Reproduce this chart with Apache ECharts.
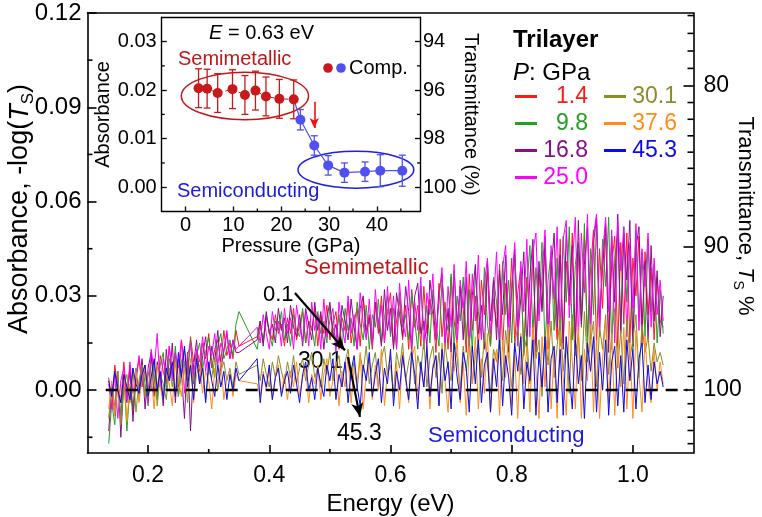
<!DOCTYPE html>
<html><head><meta charset="utf-8">
<script src="https://cdn.jsdelivr.net/npm/echarts@6/dist/echarts.min.js"></script>
<style>html,body{margin:0;padding:0;background:#fff}#c{width:762px;height:517px}</style>
</head><body><div id="c"></div>
<script>
// ---------- DATA ----------
const energy = [
.135,.140,.145,.150,.155,.160,.165,.170,.175,.180,
.185,.190,.195,.200,.205,.210,.215,.220,.225,.230,
.235,.240,.245,.250,.255,.260,.265,.270,.275,.280,
.285,.290,.295,.300,.305,.310,.315,.320,.325,.330,
.335,.340,.345,.350,
.380,.385,.390,.395,.400,.405,.410,.415,.420,.425,
.430,.435,.440,.445,.450,.455,.460,.465,.470,.475,
.480,.485,.490,.495,.500,.505,.510,.515,.520,.525,
.530,.535,.540,.545,.550,.555,.560,.565,.570,.575,
.580,.585,.590,.595,.600,.605,.610,.615,.620,.625,
.630,.635,.640,.645,.650,.655,.660,.665,.670,.675,
.680,.685,.690,.695,.700,.705,.710,.715,.720,.725,
.730,.735,.740,.745,.750,.755,.760,.765,.770,.775,
.780,.785,.790,.795,.800,.805,.810,.815,.820,.825,
.830,.835,.840,.845,.850,.855,.860,.865,.870,.875,
.880,.885,.890,.895,.900,.905,.910,.915,.920,.925,
.930,.935,.940,.945,.950,.955,.960,.965,.970,.975,
.980,.985,.990,.995,1.000,1.005,1.010,1.015,1.020,1.025,
1.030,1.035,1.040,1.045,1.050];

const abs_1_4 = [
.004,-.006,.008,.001,-.004,.009,-.002,.006,-.007,.003,
.010,.001,.007,-.003,.012,.004,-.001,.011,.006,.002,
.014,.005,.011,.001,.016,.008,.003,.017,.009,.012,
.006,.015,.010,.018,.007,.013,.016,.009,.019,.011,
.015,.010,.019,.014,
.017,.022,.015,.023,.019,.016,.024,.018,.021,.014,
.023,.018,.026,.016,.021,.025,.015,.022,.019,.026,
.014,.024,.018,.027,.016,.021,.025,.013,.023,.019,
.028,.015,.022,.026,.014,.029,.019,.024,.013,.027,
.018,.030,.015,.025,.031,.014,.022,.029,.016,.027,
.013,.032,.020,.027,.014,.033,.018,.029,.024,.012,
.034,.017,.028,.013,.036,.022,.015,.033,.026,.012,
.037,.019,.030,.013,.035,.024,.038,.014,.029,.020,
.040,.013,.034,.022,.042,.015,.031,.039,.012,.036,
.021,.045,.014,.037,.026,.046,.013,.040,.030,.016,
.048,.015,.041,.027,.050,.013,.044,.022,.049,.017,
.038,.051,.014,.045,.026,.052,.016,.040,.049,.013,
.047,.021,.050,.015,.042,.030,.049,.014,.044,.024,
.039,.016,.036,.022,.020];

const abs_9_8 = [
-.017,-.004,-.011,.003,-.008,.005,-.013,.001,-.006,.007,
-.002,.009,.002,-.005,.011,.004,-.003,.008,.012,.000,
.010,.004,.014,-.002,.009,.013,.005,.016,.002,.011,
.015,.007,.012,.017,.009,.004,.014,.018,.010,.013,
.016,.011,.021,.025,
.013,.020,.016,.024,.018,.014,.022,.019,.025,.016,
.021,.014,.024,.019,.017,.026,.015,.022,.020,.014,
.025,.018,.022,.015,.027,.020,.016,.024,.013,.026,
.019,.023,.014,.028,.021,.016,.027,.013,.024,.020,
.029,.015,.023,.030,.017,.026,.013,.031,.020,.024,
.016,.031,.022,.013,.033,.019,.027,.015,.032,.021,
.014,.035,.024,.019,.037,.013,.030,.022,.036,.016,
.032,.012,.038,.025,.017,.039,.021,.014,.036,.028,
.013,.041,.024,.035,.015,.043,.020,.038,.011,.033,
.046,.018,.039,.024,.047,.013,.035,.044,.019,.042,
.014,.049,.028,.052,.016,.040,.047,.020,.053,.012,
.045,.024,.054,.017,.048,.033,.055,.013,.042,.050,
.019,.052,.028,.046,.013,.051,.022,.044,.017,.048,
.025,.040,.015,.032,.018];

const abs_16_8 = [
-.013,.001,-.008,.006,-.015,.003,-.004,.008,-.010,.005,
.000,.010,-.006,.007,.012,-.002,.009,.004,-.005,.013,
.003,.015,-.004,.010,.006,-.009,.012,-.013,.008,.016,
.002,.011,.017,.005,.014,.009,.019,.006,.013,.018,
.010,.016,.012,.012,
.016,.022,.014,.025,.018,.021,.015,.026,.019,.023,
.015,.027,.020,.017,.024,.014,.026,.021,.016,.028,
.019,.025,.013,.023,.028,.017,.021,.014,.027,.022,
.016,.029,.020,.013,.026,.030,.017,.023,.015,.028,
.022,.014,.032,.019,.026,.013,.031,.024,.017,.033,
.025,.012,.030,.034,.018,.022,.014,.035,.027,.016,
.031,.037,.015,.026,.012,.038,.021,.033,.016,.036,
.014,.030,.040,.018,.027,.013,.041,.022,.035,.016,
.038,.024,.043,.012,.032,.045,.017,.029,.044,.014,
.036,.048,.012,.041,.025,.049,.016,.038,.050,.020,
.043,.013,.051,.030,.046,.015,.054,.021,.040,.052,
.016,.047,.055,.022,.039,.053,.012,.049,.028,.056,
.018,.050,.035,.054,.014,.045,.052,.020,.041,.016,
.046,.022,.038,.017,.030];

const abs_25_0 = [
.002,-.006,.005,-.009,.003,.007,-.003,.009,-.001,.004,
.011,.002,.008,-.004,.013,.006,.018,.001,.010,.005,
.014,.003,.012,.007,.016,-.001,.011,.015,.004,.013,
.009,.017,.006,.014,.011,.018,.008,.015,.012,.019,
.010,.016,.013,.014,
.020,.015,.024,.018,.013,.025,.019,.022,.014,.026,
.018,.023,.013,.027,.020,.016,.025,.014,.028,.019,
.024,.013,.029,.017,.022,.026,.012,.028,.020,.015,
.030,.018,.024,.013,.031,.021,.016,.029,.014,.032,
.020,.027,.015,.033,.018,.030,.013,.034,.022,.017,
.035,.014,.028,.019,.036,.013,.031,.024,.037,.016,
.029,.039,.014,.033,.020,.040,.015,.035,.026,.041,
.013,.037,.022,.043,.016,.034,.042,.018,.028,.044,
.015,.039,.046,.020,.033,.047,.014,.041,.025,.048,
.017,.044,.050,.022,.036,.051,.015,.046,.029,.052,
.019,.048,.054,.023,.040,.055,.016,.050,.031,.056,
.021,.049,.056,.018,.043,.055,.025,.051,.015,.054,
.038,.052,.017,.047,.026,.053,.019,.045,.033,.050,
.020,.042,.024,.035,.022];

const abs_30_1 = [
-.009,.002,-.005,.006,-.011,.001,.005,-.004,.007,-.007,
.003,.008,-.002,.006,.000,.009,-.005,.005,.002,-.003,
.007,.001,.010,-.002,.005,.009,-.004,.008,.003,.011,
.002,.008,-.003,.007,.004,.010,.000,.006,.009,.003,
.007,.001,.009,.005,
.008,.003,.010,.005,.001,.009,.004,.011,.006,.002,
.009,.004,.011,.002,.007,.010,.003,.008,.012,.004,
.007,.001,.010,.005,.012,.003,.008,.011,.002,.009,
.013,.004,.009,.000,.011,.006,.014,.002,.008,.012,
.001,.010,.014,.005,.008,-.001,.012,.007,.015,.003,
.009,.013,.002,.011,.006,.016,.001,.010,.014,.004,
.012,-.001,.015,.007,.003,.016,.010,.000,.014,.006,
.017,.002,.011,.015,.004,.018,.008,-.001,.013,.009,
.016,.003,.019,.010,.001,.015,.020,.005,.012,.017,
.002,.021,.010,.016,-.002,.019,.008,.022,.004,.014,
.023,.006,.017,-.001,.024,.011,.018,.003,.025,.009,
.015,.022,.001,.020,.013,.024,.005,.018,.026,.007,
.019,.002,.023,.010,.016,.024,.004,.021,.012,.017,
.006,.015,.009,.012,.008];

const abs_37_6 = [
-.006,.003,-.008,.001,-.003,.005,-.010,.002,-.001,.006,
-.004,.004,.007,-.002,.005,-.006,.008,.001,-.003,.006,
.002,-.005,.009,.003,-.002,.007,.000,.010,-.004,.005,
.008,-.001,.006,.003,-.006,.007,.002,.009,-.003,.004,
.006,-.002,.005,.003,
.002,-.002,.006,.000,.007,-.003,.004,.008,-.001,.005,
-.003,.006,.001,.009,-.002,.004,.007,-.004,.005,.002,
.008,-.003,.005,.010,-.002,.003,.009,-.005,.006,.001,
.011,-.004,.007,.002,.012,-.006,.005,.010,-.003,.008,
.000,.013,-.005,.006,.011,-.002,.009,-.006,.012,.003,
-.004,.010,.014,-.003,.007,.001,.013,-.006,.008,.011,
-.005,.015,.003,-.007,.012,.006,.016,-.004,.009,-.008,
.014,.002,.017,-.006,.010,-.001,.018,-.007,.008,.013,
-.008,.016,.004,.019,-.005,.011,-.009,.018,.002,.014,
-.007,.020,.006,-.009,.017,.001,.021,-.006,.012,-.009,
.019,.004,-.008,.022,.009,-.006,.020,-.009,.013,.003,
.021,-.007,.016,-.009,.010,.022,-.004,.018,-.008,.014,
.001,.020,-.006,.015,-.009,.019,.005,-.007,.017,.002,
-.004,.013,.000,.009,.002];

const abs_45_3 = [
.003,-.002,.006,.000,-.004,.005,.001,-.003,.007,.002,
-.001,.005,.008,-.002,.004,.010,.000,.006,-.003,.007,
.003,.009,-.002,.012,.004,.014,.001,.008,-.003,.010,
.002,.007,-.004,.009,.003,-.002,.008,.001,.006,-.003,
.005,.000,.007,.003,
.010,-.004,.005,.001,.008,-.003,.004,.007,-.002,.003,
.006,-.001,.008,.002,-.004,.005,.009,.000,.004,-.003,
.007,.002,-.002,.008,.003,.010,-.003,.005,.001,.009,
-.004,.006,.011,.001,-.005,.008,.003,.012,-.002,.005,
.010,-.004,.007,.002,.013,-.005,.006,.000,.011,.004,
-.003,.012,.005,-.006,.009,.001,.014,-.002,.007,.011,
-.005,.013,.003,.009,-.006,.015,.004,-.003,.012,.007,
-.007,.014,.002,.016,-.004,.008,.012,-.007,.010,.001,
.016,-.005,.011,.004,-.008,.015,.006,.017,-.006,.009,
.003,.016,-.008,.012,.001,.017,-.007,.010,.014,-.004,
.013,-.008,.017,.005,-.006,.016,.002,.011,-.009,.015,
.006,.017,-.007,.012,.000,.016,-.008,.009,.014,-.005,
.011,-.007,.016,.003,.013,-.006,.010,.015,-.004,.008,
-.003,.009,.002,.006,.001];

const pressures = ['1.4','9.8','16.8','25.0','30.1','37.6','45.3'];

// inset: absorbance at E = 0.63 eV vs pressure
const insetPressure = [2.7,4.5,6.7,9.8,12.4,14.6,16.8,19.6,22.6,24.0,26.9,29.8,33.2,37.5,40.7,45.3];
const insetAbs      = [.0204,.0203,.0194,.0202,.0190,.0199,.0187,.0182,.0181,.0139,.0086,.0045,.0030,.0032,.0034,.0034];
const insetErr      = [.0040,.0040,.0040,.0040,.0040,.0040,.0040,.0040,.0040,.0021,.0020,.0020,.0020,.0020,.0033,.0032];

// tick values
const xMajor = [0.2,0.4,0.6,0.8,1.0];
const xMinor = [0.3,0.5,0.7,0.9];
const yMajor = [0,0.03,0.06,0.09,0.12];
const yMinor = [-0.015,0.015,0.045,0.075,0.105];
const tMajor = [80,90,100];
const tMinor = [76,77,78,79,81,82,83,84,85,86,87,88,89,91,92,93,94,95,96,97,98,99,101,102,103,104];
const insetXMajor = [0,10,20,30,40];
const insetXMinor = [5,15,25,35,45];
const insetYMajor = [0,0.01,0.02,0.03];
const insetYMinor = [0.005,0.015,0.025];
const insetTMajor = [94,96,98,100];
const insetTMinor = [95,97,99];

// ---------- STYLE / BUILD ----------
const FONT = '"Liberation Sans", Arial, Helvetica, sans-serif';
const lineColors = ['#ff1a1a','#22a022','#86108c','#ff00ff','#8c8c28','#ff8c1a','#0a0af0'];
const RED = '#c81a1a', BLUE = '#5050f0';
const DARKRED = '#c01818', TXTBLUE = '#1a1ae0';
const seriesValues = [abs_1_4, abs_9_8, abs_16_8, abs_25_0, abs_30_1, abs_37_6, abs_45_3];

function pairs(xs, ys){ const out=[]; const n=Math.min(xs.length, ys.length); for(let i=0;i<n;i++) out.push([xs[i], ys[i]]); return out; }
const absFromT = t => -Math.log10(t/100);          // main right axis: Ts %
const absFromInsetT = t => (100 - t) / 200;         // inset right axis

const mainRange = {x:[0.1,1.1], y:[-0.02,0.12]};
const insetRange = {x:[-5,49], y:[-0.005,0.035]};

const chart = echarts.init(document.getElementById('c'), null, {renderer:'canvas'});
const noSplit = {show:false};
function baseAxis(extra){ return Object.assign({type:'value', splitLine:noSplit, axisPointer:{show:false}}, extra); }
const mLine = {show:true, onZero:false, lineStyle:{color:'#000', width:1.6}};
const iLine = {show:true, onZero:false, lineStyle:{color:'#000', width:1.4}};

const subRich = (size) => ({
  a:{fontSize:size, fontFamily:FONT, color:'#000', fill:'#000', lineHeight:size+6},
  i:{fontSize:size, fontFamily:FONT, color:'#000', fill:'#000', fontStyle:'italic', lineHeight:size+6},
  s:{fontSize:Math.round(size*0.62), fontFamily:FONT, color:'#000', fill:'#000', lineHeight:Math.round(size*0.62), verticalAlign:'bottom'}
});

// axis indices: x 0 main-bottom, 1 main-top, 2 inset-bottom, 3 inset-top
//               y 0 main-left, 1 main-right, 2 inset-left, 3 inset-right
const xAxes = [
  baseAxis({gridIndex:0, position:'bottom', min:mainRange.x[0], max:mainRange.x[1], axisLine:mLine,
    axisTick:{show:true, inside:true, length:8, lineStyle:{width:1.6,color:'#000'}, customValues:xMajor},
    axisLabel:{show:true, customValues:xMajor, margin:11, fontSize:23, color:'#000', fontFamily:FONT, formatter:v=>v.toFixed(1)},
    name:'Energy (eV)', nameLocation:'middle', nameGap:36, nameTextStyle:{fontSize:24, color:'#000', fontFamily:FONT}}),
  baseAxis({gridIndex:0, position:'top', min:mainRange.x[0], max:mainRange.x[1], axisLine:mLine, axisTick:{show:false}, axisLabel:{show:false}}),
  baseAxis({gridIndex:1, position:'bottom', min:insetRange.x[0], max:insetRange.x[1], axisLine:iLine,
    axisTick:{show:true, inside:true, length:5, lineStyle:{width:1.3,color:'#000'}, customValues:insetXMajor},
    axisLabel:{show:true, customValues:insetXMajor, margin:4, fontSize:20, color:'#000', fontFamily:FONT},
    name:'Pressure (GPa)', nameLocation:'middle', nameGap:21, nameTextStyle:{fontSize:20, color:'#000', fontFamily:FONT}}),
  baseAxis({gridIndex:1, position:'top', min:insetRange.x[0], max:insetRange.x[1], axisLine:iLine, axisTick:{show:false}, axisLabel:{show:false}})
];

const yAxes = [
  baseAxis({gridIndex:0, position:'left', min:mainRange.y[0], max:mainRange.y[1], axisLine:mLine,
    axisTick:{show:true, inside:true, length:9, lineStyle:{width:1.6,color:'#000'}, customValues:yMajor},
    axisLabel:{show:true, customValues:yMajor, margin:6, fontSize:24, color:'#000', fontFamily:FONT, formatter:v=>v.toFixed(2)}}),
  baseAxis({gridIndex:0, position:'right', min:mainRange.y[0], max:mainRange.y[1], axisLine:mLine,
    axisTick:{show:true, inside:true, length:10, lineStyle:{width:1.6,color:'#000'}, customValues:tMajor.map(absFromT)},
    axisLabel:{show:true, customValues:tMajor.map(absFromT), margin:10, fontSize:23, color:'#000', fontFamily:FONT,
      formatter:v=>String(Math.round(100*Math.pow(10,-v)))}}),
  baseAxis({gridIndex:1, position:'left', min:insetRange.y[0], max:insetRange.y[1], axisLine:iLine,
    axisTick:{show:true, inside:true, length:5, lineStyle:{width:1.3,color:'#000'}, customValues:insetYMajor},
    axisLabel:{show:true, customValues:insetYMajor, margin:5, fontSize:20, color:'#000', fontFamily:FONT, formatter:v=>v.toFixed(2)},
    name:'Absorbance', nameLocation:'middle', nameGap:39, nameRotate:90, nameTextStyle:{fontSize:20, color:'#000', fontFamily:FONT}}),
  baseAxis({gridIndex:1, position:'right', min:insetRange.y[0], max:insetRange.y[1], axisLine:iLine,
    axisTick:{show:true, inside:true, length:5, lineStyle:{width:1.3,color:'#000'}, customValues:insetTMajor.map(absFromInsetT)},
    axisLabel:{show:true, customValues:insetTMajor.map(absFromInsetT), margin:3, fontSize:20, color:'#000', fontFamily:FONT,
      formatter:v=>String(Math.round(100-200*v))},
    name:'Transmittance (%)', nameLocation:'middle', nameGap:27, nameRotate:-90, nameTextStyle:{fontSize:20, color:'#000', fontFamily:FONT}})
];

// minor ticks drawn through the axes' own scales: [x, y, dx, dy]
function minorTickSeries(xi, yi, items, width){
  return {type:'custom', xAxisIndex:xi, yAxisIndex:yi, silent:true, animation:false, clip:false, z:10,
    data:items, encode:{x:0, y:1},
    renderItem:(params, api)=>{
      const p = api.coord([api.value(0), api.value(1)]);
      return {type:'line', shape:{x1:p[0], y1:p[1], x2:p[0]+api.value(2), y2:p[1]+api.value(3)}, style:{stroke:'#000', lineWidth:width}};
    }};
}
const mainMinor = [].concat(
  xMinor.map(v=>[v, mainRange.y[0], 0, -4]),
  yMinor.map(v=>[mainRange.x[0], v, 5, 0]),
  tMinor.map(t=>[mainRange.x[1], absFromT(t), -6, 0]));
const insetMinor = [].concat(
  insetXMinor.map(v=>[v, insetRange.y[0], 0, -3]),
  insetYMinor.map(v=>[insetRange.x[0], v, 3, 0]),
  insetTMinor.map(t=>[insetRange.x[1], absFromInsetT(t), -3, 0]));

const arrowStyle = {color:'#000', width:2.2, type:'solid'};
const dashStyle = {color:'#000', width:2.4, type:[12,8]};
const mainSeries = pressures.map((p,k)=>({
  name:p, type:'line', xAxisIndex:0, yAxisIndex:0, data:pairs(energy, seriesValues[k]),
  showSymbol:false, symbol:'none', animation:false, silent:true,
  lineStyle:{width:1, color:lineColors[k]}, itemStyle:{color:lineColors[k]}
}));
mainSeries[mainSeries.length-1].markLine = {
  silent:true, animation:false, label:{show:false}, emphasis:{disabled:true},
  data:[
    [{coord:[0.13,0], symbol:'none', lineStyle:dashStyle}, {coord:[1.09,0], symbol:'none', lineStyle:dashStyle}],
    [{coord:[0.4423,0.0309], symbol:'none', lineStyle:arrowStyle}, {coord:[0.5248,0.0127], symbol:'arrow', symbolSize:[9,14], lineStyle:arrowStyle}],
    [{coord:[0.5298,0.0105], symbol:'none', lineStyle:arrowStyle}, {coord:[0.5496,-0.0085], symbol:'arrow', symbolSize:[9,14], lineStyle:arrowStyle}]
  ]
};

const IX = 2, IY = 2; // inset axes
const insetSeries = [
  {type:'custom', name:'errbars', xAxisIndex:IX, yAxisIndex:IY, z:3, silent:true, animation:false,
   data: insetPressure.map((p,i)=>[p, insetAbs[i]-insetErr[i], insetAbs[i]+insetErr[i], i]),
   encode:{x:0, y:[1,2]},
   renderItem:(params, api)=>{
     const x=api.value(0), lo=api.value(1), hi=api.value(2), idx=api.value(3);
     const a=api.coord([x,lo]), b=api.coord([x,hi]);
     const c = idx<9 ? RED : BLUE, w=3.5;
     const st={stroke:c, lineWidth:1.3};
     return {type:'group', children:[
       {type:'line', shape:{x1:a[0],y1:a[1],x2:b[0],y2:b[1]}, style:st},
       {type:'line', shape:{x1:a[0]-w,y1:a[1],x2:a[0]+w,y2:a[1]}, style:st},
       {type:'line', shape:{x1:b[0]-w,y1:b[1],x2:b[0]+w,y2:b[1]}, style:st}
     ]};
   }},
  {type:'line', name:'semimetallic E=0.63', xAxisIndex:IX, yAxisIndex:IY, z:4, animation:false, silent:true,
   data: pairs(insetPressure.slice(0,9), insetAbs.slice(0,9)),
   symbol:'circle', symbolSize:10, showSymbol:true, itemStyle:{color:RED}, lineStyle:{color:RED, width:1, type:[4,3]},
   markLine:{silent:true, animation:false, label:{show:false},
     data:[[{coord:[26.9,0.0176], symbol:'none', lineStyle:{color:'#ee1111', width:1.6, type:'solid'}},
            {coord:[26.9,0.0122], symbol:'arrow', symbolSize:[7,10], lineStyle:{color:'#ee1111', width:1.6, type:'solid'}}]]}},
  {type:'line', name:'semiconducting E=0.63', xAxisIndex:IX, yAxisIndex:IY, z:4, animation:false, silent:true,
   data: insetPressure.slice(8).map((p,i)=> i===0 ? {value:[p, insetAbs[8]], symbol:'none'} : [p, insetAbs[8+i]]),
   symbol:'circle', symbolSize:10, showSymbol:true, itemStyle:{color:BLUE}, lineStyle:{color:BLUE, width:1.2}}
];

const legendCommon = {orient:'vertical', top:85, itemWidth:22, itemHeight:3, itemGap:4, icon:'rect', selectedMode:false, padding:0,
  formatter:'{n|{name}}', textStyle:{fontFamily:FONT, fontSize:23, rich:{n:{width:46, align:'right', fontSize:23, fontFamily:FONT, lineHeight:24}}}};

const texts = [
  {type:'text', x:20, y:209, rotation:Math.PI/2, style:{text:'{a|Absorbance, -log(}{i|T}{s|S}{a|)}', align:'center', verticalAlign:'middle', rich:subRich(27)}},
  {type:'text', x:745, y:216, rotation:-Math.PI/2, style:{text:'{a|Transmittance, }{i|T}{s|S}{a| %}', align:'center', verticalAlign:'middle', rich:subRich(22)}},
  {type:'text', x:513, y:40, style:{text:'Trilayer', fontWeight:'bold', fontSize:24, fontFamily:FONT, fill:'#000', align:'left', verticalAlign:'middle'}},
  {type:'text', x:513, y:73, style:{text:'{i|P}{a|: GPa}', align:'left', verticalAlign:'middle',
     rich:{i:{fontStyle:'italic', fontSize:24, fontFamily:FONT, fill:'#000'}, a:{fontSize:24, fontFamily:FONT, fill:'#000'}}}},
  {type:'text', x:304, y:268, style:{text:'Semimetallic', fontSize:22, fontFamily:FONT, fill:DARKRED, align:'left', verticalAlign:'middle'}},
  {type:'text', x:263, y:295, style:{text:'0.1', fontSize:22, fontFamily:FONT, fill:'#000', align:'left', verticalAlign:'middle'}},
  {type:'text', x:298, y:362, style:{text:'30.1', fontSize:23, fontFamily:FONT, fill:'#000', align:'left', verticalAlign:'middle'}},
  {type:'text', x:337, y:434, style:{text:'45.3', fontSize:23, fontFamily:FONT, fill:'#000', align:'left', verticalAlign:'middle'}},
  {type:'text', x:428, y:436, style:{text:'Semiconducting', fontSize:22, fontFamily:FONT, fill:TXTBLUE, align:'left', verticalAlign:'middle'}},
  {type:'text', x:209, y:33, style:{text:'{i|E}{a| = 0.63 eV}', align:'left', verticalAlign:'middle',
     rich:{i:{fontStyle:'italic', fontSize:20, fontFamily:FONT, fill:'#000'}, a:{fontSize:20, fontFamily:FONT, fill:'#000'}}}},
  {type:'text', x:178, y:59, style:{text:'Semimetallic', fontSize:20, fontFamily:FONT, fill:DARKRED, align:'left', verticalAlign:'middle'}},
  {type:'text', x:177, y:191, style:{text:'Semiconducting', fontSize:20, fontFamily:FONT, fill:TXTBLUE, align:'left', verticalAlign:'middle'}},
  {type:'circle', shape:{cx:328, cy:68, r:4.8}, style:{fill:RED}},
  {type:'circle', shape:{cx:341, cy:68, r:4.8}, style:{fill:BLUE}},
  {type:'text', x:349, y:68, style:{text:'Comp.', fontSize:20, fontFamily:FONT, fill:'#000', align:'left', verticalAlign:'middle'}}
];

chart.setOption({
  backgroundColor:'#fff',
  animation:false,
  textStyle:{fontFamily:FONT},
  grid:[
    {left:87.5, right:68.5, top:13, bottom:64, containLabel:false, outerBoundsMode:'none'},
    {left:161.7, right:342, top:17.3, bottom:305.5, containLabel:false, outerBoundsMode:'none'}
  ],
  xAxis:xAxes, yAxis:yAxes,
  legend:[
    Object.assign({}, legendCommon, {left:515, data:pressures.slice(0,4).map((p,k)=>({name:p, textStyle:{color:lineColors[k]}}))}),
    Object.assign({}, legendCommon, {left:604, data:pressures.slice(4).map((p,k)=>({name:p, textStyle:{color:lineColors[k+4]}}))})
  ],
  series: mainSeries.concat(insetSeries, [minorTickSeries(0,0,mainMinor,1.6), minorTickSeries(IX,IY,insetMinor,1.3)]),
  graphic: texts
});

// ellipses marking the two regimes in the inset (data units)
const ellipses = [
  {c:[12.4,0.0188], rx:13.3, ry:0.0049, color:DARKRED},
  {c:[35.6,0.0036], rx:12.1, ry:0.0038, color:'#2020e0'}
];
const insetFinder = {seriesIndex: mainSeries.length + 1};
const ellEls = ellipses.map(e=>{
  const c = chart.convertToPixel(insetFinder, e.c);
  const px = chart.convertToPixel(insetFinder, [e.c[0]+e.rx, e.c[1]+e.ry]);
  return {type:'ellipse', shape:{cx:c[0], cy:c[1], rx:Math.abs(px[0]-c[0]), ry:Math.abs(px[1]-c[1])}, style:{fill:null, stroke:e.color, lineWidth:1.5}, z:1};
});
chart.setOption({graphic: texts.concat(ellEls)});
</script></body></html>
